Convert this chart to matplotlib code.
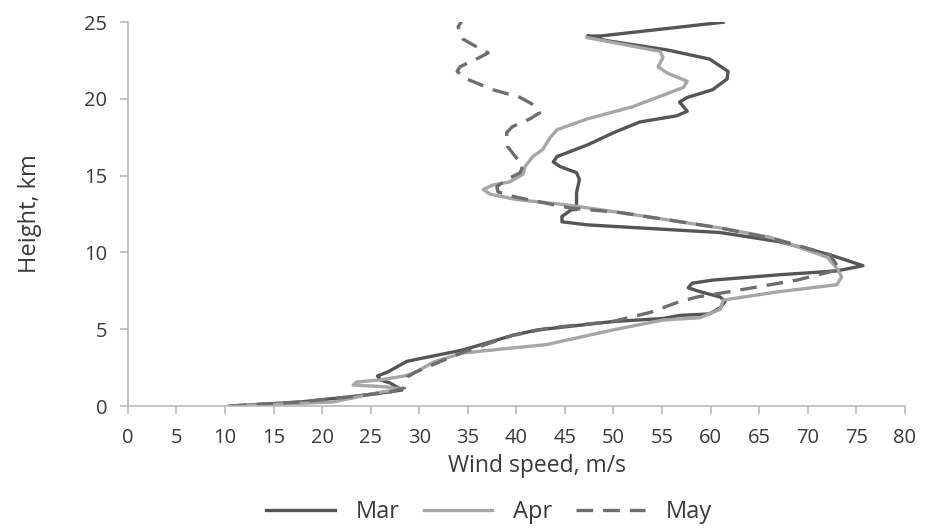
"""
Wind speed profile by month: height vs. wind speed.
"""
import matplotlib
matplotlib.use("Agg")
import matplotlib.pyplot as plt

# values (speed m/s, height km)
mar_speed = [10.5, 17.7, 22.9, 26.7, 28.2, 27.0, 26.0, 25.7, 26.7, 28.7, 29.4, 34.5, 39.6,
             42.1, 49.9, 55.1, 56.8, 59.9, 61.0, 61.5, 61.0, 58.9, 57.7, 58.1, 60.2, 67.1,
             73.0, 75.7, 72.3, 67.1, 61.0, 54.1, 47.3, 44.7, 44.7, 45.7, 46.2, 46.2, 46.5,
             46.2, 44.5, 43.8, 44.2, 47.3, 50.0, 52.7, 56.5, 57.6, 56.8, 57.6, 60.2, 61.7,
             61.8, 59.9, 55.5, 49.3, 47.3, 48.6, 61.3]
mar_height = [0.0, 0.26, 0.6, 0.9, 1.04, 1.5, 1.7, 1.96, 2.2, 2.9, 3.0, 3.65, 4.6,
              4.95, 5.5, 5.7, 5.9, 6.0, 6.4, 6.8, 7.1, 7.45, 7.7, 8.0, 8.2, 8.55,
              8.8, 9.14, 9.85, 10.7, 11.3, 11.55, 11.8, 12.0, 12.35, 12.8, 12.8, 13.9, 14.75,
              15.2, 15.6, 15.9, 16.25, 17.0, 17.8, 18.5, 18.9, 19.2, 19.8, 20.1, 20.6, 21.3,
              21.8, 22.6, 23.2, 23.8, 24.1, 24.1, 25.0]

apr_speed = [10.5, 21.1, 26.0, 28.0, 26.7, 23.2, 23.6, 26.0, 28.5, 29.6, 31.6, 34.5, 38.3,
             43.1, 49.9, 55.1, 58.9, 61.0, 61.3, 67.1, 73.0, 73.5, 73.1, 72.0, 66.1, 61.0,
             50.7, 45.2, 40.0, 37.3, 36.6, 37.6, 39.3, 40.7, 40.9, 41.7, 42.7, 43.5, 44.2,
             47.3, 52.0, 57.2, 57.6, 55.5, 54.6, 55.1, 54.8, 47.3]
apr_height = [0.0, 0.26, 0.9, 1.1, 1.24, 1.37, 1.57, 1.7, 1.96, 2.2, 2.9, 3.45, 3.7,
              4.0, 4.95, 5.6, 5.75, 6.3, 6.9, 7.45, 7.9, 8.4, 8.9, 9.7, 11.0, 11.6,
              12.6, 13.1, 13.45, 13.8, 14.1, 14.4, 14.6, 15.1, 15.6, 16.25, 16.7, 17.5, 18.0,
              18.7, 19.5, 20.75, 21.15, 21.7, 22.1, 22.7, 23.1, 24.0]

may_speed = [10.5, 17.7, 22.9, 27.0, 28.5, 28.8, 29.6, 31.8, 34.5, 39.6, 43.5, 49.9, 53.8,
             56.8, 58.6, 62.0, 68.9, 73.3, 72.3, 67.1, 61.0, 50.7, 45.5, 40.0, 38.1, 38.0,
             39.0, 40.4, 40.7, 39.9, 39.1, 39.0, 39.6, 41.4, 42.4, 42.1, 40.4, 37.6, 34.9,
             33.9, 34.2, 36.2, 37.1, 35.9, 34.5, 34.0, 34.4]
may_height = [0.0, 0.26, 0.6, 0.9, 1.2, 1.9, 2.2, 2.8, 3.5, 4.6, 5.1, 5.5, 6.1,
              6.8, 7.1, 7.45, 8.2, 8.9, 9.85, 10.8, 11.6, 12.6, 12.9, 13.6, 13.95, 14.3,
              14.75, 15.2, 15.7, 16.25, 16.9, 17.8, 18.2, 18.7, 19.1, 19.5, 20.1, 20.6, 21.3,
              21.8, 22.1, 22.7, 23.0, 23.4, 23.9, 24.7, 25.1]

x_ticks = list(range(0, 85, 5))
y_ticks = list(range(0, 30, 5))

plt.rcParams["font.family"] = ["Open Sans", "DejaVu Sans"]
TXT = "#3a3a3a"
AX = "#b8b8b8"

fig = plt.figure(figsize=(9.27, 5.29), dpi=100)
ax = fig.add_axes([0.138, 0.2325, 0.838, 0.7255])

ax.plot(mar_speed, mar_height, color="#555555", lw=2.4, label="Mar")
ax.plot(apr_speed, apr_height, color="#a6a6a6", lw=2.4, label="Apr")
ax.plot(may_speed, may_height, color="#6e6e6e", lw=2.4, ls=(0, (5, 3)), label="May")

ax.set_xlim(0, 80)
ax.set_ylim(0, 25)
ax.set_xticks(x_ticks)
ax.set_yticks(y_ticks)
for s in ["top", "right"]:
    ax.spines[s].set_visible(False)
for s in ["left", "bottom"]:
    ax.spines[s].set_color(AX)
    ax.spines[s].set_linewidth(1.2)
ax.tick_params(colors=AX, labelcolor=TXT, labelsize=14.5, length=6, width=1.2, direction="out")
ax.tick_params(axis="x", pad=10)
ax.tick_params(axis="y", pad=9)

ax.set_xlabel("Wind speed, m/s", fontsize=16.5, color=TXT, labelpad=6)
ax.xaxis.set_label_coords(0.527, -0.125)
ax.set_ylabel("Height, km", fontsize=17, color=TXT, labelpad=30)

ax.legend(loc="upper center", bbox_to_anchor=(0.465, -0.215), ncol=3, frameon=False,
          fontsize=17, handlelength=2.9, handletextpad=0.9, columnspacing=1.0,
          labelcolor=TXT, borderpad=0)

plt.savefig("out.png", dpi=100)
